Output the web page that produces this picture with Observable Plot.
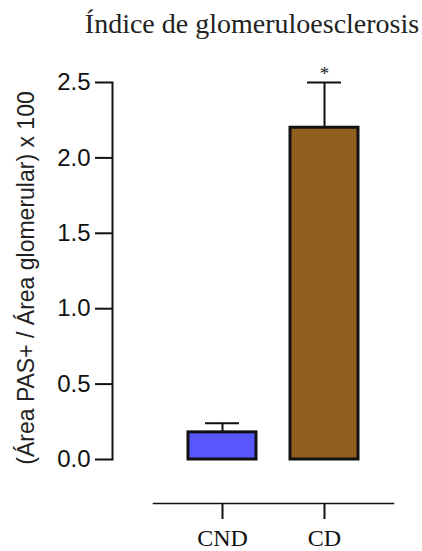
<!DOCTYPE html>
<html>
<head>
<meta charset="utf-8">
<script src="https://cdn.jsdelivr.net/npm/d3@7"></script>
<script src="https://cdn.jsdelivr.net/npm/@observablehq/plot@0.6"></script>
<style>
  body { margin: 0; background: #fff; }
  #title {
    height: 50px; box-sizing: border-box; padding-top: 10px;
    width: 504px; text-align: center;
    font-family: "Liberation Serif", "Times New Roman", serif;
    font-size: 28px; line-height: 28px; color: #222;
  }
</style>
</head>
<body>
<div id="title">Índice de glomeruloesclerosis</div>
<div id="chart"></div>
<script>
// Glomerulosclerosis index per group: mean and error (SEM)
const groups = ["CND", "CD"];
const means = [0.18, 2.2];
const errors = [0.06, 0.3];
const colors = ["#5757fc", "#8f5f20"];
const significance = ["", "*"];
const yTicks = [0, 0.5, 1, 1.5, 2, 2.5];
const yLabel = "(Área PAS+ / Área glomerular) x 100";

const data = groups.map((g, i) => ({
  group: g, mean: means[i], err: errors[i], top: means[i] + errors[i],
  color: colors[i], sig: significance[i]
}));

const chart = Plot.plot({
  width: 422,
  height: 501,
  marginLeft: 112,
  marginRight: 29,
  marginTop: 32,
  marginBottom: 48,
  style: {fontFamily: "Liberation Sans, Arial, sans-serif", color: "#111", background: "#fff"},
  x: {domain: groups, range: [153, 393], paddingInner: 1 / 3, paddingOuter: 0.343},
  y: {domain: [0, 2.5], range: [409, 32]},
  marks: [
    // error bars (drawn under the bars)
    Plot.ruleX(data, {x: "group", y1: "mean", y2: "top", stroke: "#111", strokeWidth: 2}),
    Plot.tickY(data, {x: "group", y: "top", stroke: "#111", strokeWidth: 2, insetLeft: 17, insetRight: 17}),
    Plot.barY(data, {x: "group", y: "mean", fill: "color", stroke: "#111", strokeWidth: 3}),
    Plot.text(data, {x: "group", y: "top", text: "sig", dy: -3, lineAnchor: "bottom",
      fontFamily: "Liberation Serif, serif", fontSize: 19, fill: "#222"}),
    // y axis
    Plot.frame({anchor: "left", insetBottom: 44, stroke: "#111", strokeWidth: 2}),
    Plot.axisY({ticks: yTicks, tickFormat: d3.format(".1f"), tickSize: 17, tickPadding: 5,
      fontSize: 24, strokeWidth: 2, label: null}),
    Plot.text([yLabel], {frameAnchor: "left", textAnchor: "middle", rotate: -90, dx: -86, dy: -15,
      fontSize: 23, fill: "#222"}),
    // x axis (offset below the zero line)
    Plot.frame({anchor: "bottom", insetLeft: 41, stroke: "#111", strokeWidth: 1.5}),
    Plot.axisX({tickSize: 16, tickPadding: 9, strokeWidth: 2, label: null,
      fontFamily: "Liberation Serif, serif", fontSize: 24})
  ]
});
document.getElementById("chart").appendChild(chart);
</script>
</body>
</html>
